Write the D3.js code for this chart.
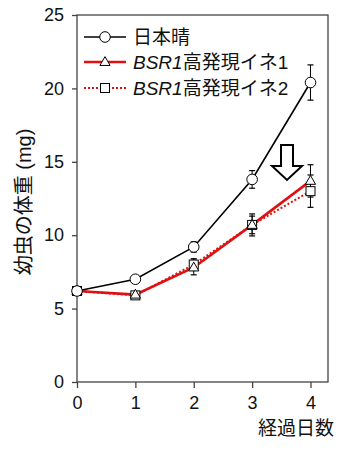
<!DOCTYPE html>
<html><head><meta charset="utf-8">
<script src="https://cdn.jsdelivr.net/npm/d3@7"></script>
<style>body{margin:0;background:#fff;} text{font-family:"Liberation Sans","Noto Sans CJK JP",sans-serif;}</style>
</head><body><svg id="c" width="353" height="451"></svg>
<script>
const days = [0, 1, 2, 3, 4];
const seriesNames = ["日本晴", "BSR1高発現イネ1", "BSR1高発現イネ2"];
const nipponbare = [6.2, 7.0, 9.2, 13.8, 20.4];
const nipponbareErr = [0.1, 0.1, 0.35, 0.6, 1.2];
const bsr1Line1 = [6.2, 5.95, 7.8, 10.7, 13.7];
const bsr1Line1Err = [0.1, 0.1, 0.5, 0.75, 1.1];
const bsr1Line2 = [6.2, 5.9, 8.0, 10.7, 13.0];
const bsr1Line2Err = [0.1, 0.1, 0.4, 0.6, 1.1];
const yTicks = [0, 5, 10, 15, 20, 25];
const xTicks = [0, 1, 2, 3, 4];

const svg = d3.select("#c");
const L = 77, T = 15, R = 328, B = 382;
const x = d3.scaleLinear().domain([0, 4.3]).range([L, R]);
const y = d3.scaleLinear().domain([0, 25]).range([B, T]);
const axisColor = "#444";

// frame
svg.append("rect").attr("x", L).attr("y", T).attr("width", R - L).attr("height", B - T)
  .attr("fill", "none").attr("stroke", axisColor).attr("stroke-width", 1.3);

const yAxis = svg.append("g").attr("transform", `translate(${L},0)`)
  .call(d3.axisLeft(y).tickValues(yTicks).tickFormat(d3.format("d")).tickSize(5).tickPadding(8));
const xAxis = svg.append("g").attr("transform", `translate(0,${B})`)
  .call(d3.axisBottom(x).tickValues(xTicks).tickFormat(d3.format("d")).tickSize(6).tickPadding(8));
[yAxis, xAxis].forEach(a => {
  a.select(".domain").remove();
  a.selectAll("line").attr("stroke", axisColor).attr("stroke-width", 1.3);
  a.selectAll("text").attr("font-size", 18).attr("fill", "#111")
   .style("font-family", '"Liberation Sans", sans-serif');
});

// axis titles
svg.append("text").attr("transform", `translate(31,202) rotate(-90)`)
  .attr("text-anchor", "middle").attr("font-size", 20).attr("fill", "#111")
  .text("幼虫の体重 (mg)");
svg.append("text").attr("x", 334).attr("y", 435).attr("text-anchor", "end")
  .attr("font-size", 19).attr("fill", "#111").text("経過日数");

const series = [
  {vals: nipponbare, err: nipponbareErr, color: "#000", w: 1.6, dash: null, marker: "circle"},
  {vals: bsr1Line1, err: bsr1Line1Err, color: "#e01010", w: 2.6, dash: null, marker: "triangle"},
  {vals: bsr1Line2, err: bsr1Line2Err, color: "#e01010", w: 2, dash: "2,2", marker: "square"}
];
const line = d3.line().x((d, i) => x(days[i])).y(d => y(d));

function drawMarker(g, type, cx, cy) {
  if (type === "circle") {
    g.append("circle").attr("cx", cx).attr("cy", cy).attr("r", 5.3)
      .attr("fill", "#fff").attr("stroke", "#000").attr("stroke-width", 1);
  } else if (type === "triangle") {
    g.append("path").attr("d", d3.symbol().type(d3.symbolTriangle).size(45)())
      .attr("transform", `translate(${cx},${cy + 0.5})`)
      .attr("fill", "#fff").attr("stroke", "#000").attr("stroke-width", 1);
  } else {
    g.append("rect").attr("x", cx - 4.5).attr("y", cy - 4.5).attr("width", 9).attr("height", 9)
      .attr("fill", "#fff").attr("stroke", "#000").attr("stroke-width", 1);
  }
}

// error bars
series.forEach(s => {
  const g = svg.append("g");
  s.vals.forEach((v, i) => {
    if (s.err[i] < 0.2) return;
    const cx = x(days[i]);
    g.append("line").attr("x1", cx).attr("x2", cx).attr("y1", y(v - s.err[i])).attr("y2", y(v + s.err[i]))
      .attr("stroke", "#000").attr("stroke-width", 1);
    [v - s.err[i], v + s.err[i]].forEach(e => g.append("line")
      .attr("x1", cx - 3).attr("x2", cx + 3).attr("y1", y(e)).attr("y2", y(e))
      .attr("stroke", "#000").attr("stroke-width", 1.2));
  });
});
// lines
[2, 1, 0].forEach(k => {
  const s = series[k];
  svg.append("path").attr("d", line(s.vals)).attr("fill", "none")
    .attr("stroke", s.color).attr("stroke-width", s.w)
    .attr("stroke-dasharray", s.dash);
});
[2, 1, 0].forEach(k => {
  const s = series[k];
  const g = svg.append("g");
  s.vals.forEach((v, i) => drawMarker(g, s.marker, x(days[i]), y(v)));
});

// legend
const legY = [37, 62, 88];
series.forEach((s, k) => {
  const g = svg.append("g");
  g.append("line").attr("x1", 84).attr("x2", 126).attr("y1", legY[k]).attr("y2", legY[k])
    .attr("stroke", s.color).attr("stroke-width", s.w).attr("stroke-dasharray", s.dash);
  drawMarker(g, s.marker, 105, legY[k]);
  const t = g.append("text").attr("x", 133).attr("y", legY[k] + 7).attr("font-size", 19).attr("fill", "#111");
  if (k === 0) t.text(seriesNames[0]);
  else {
    t.append("tspan").attr("font-style", "italic").text("BSR1");
    t.append("tspan").text(seriesNames[k].slice(4));
  }
});

// arrow
const ax = 287, aTop = 145, aHeadY = 166, aTip = 180;
svg.append("path")
  .attr("d", `M${ax - 6},${aTop} L${ax + 6},${aTop} L${ax + 6},${aHeadY} L${ax + 15},${aHeadY} L${ax},${aTip} L${ax - 15},${aHeadY} L${ax - 6},${aHeadY} Z`)
  .attr("fill", "#fff").attr("stroke", "#000").attr("stroke-width", 2).attr("stroke-linejoin", "miter");
</script></body></html>
